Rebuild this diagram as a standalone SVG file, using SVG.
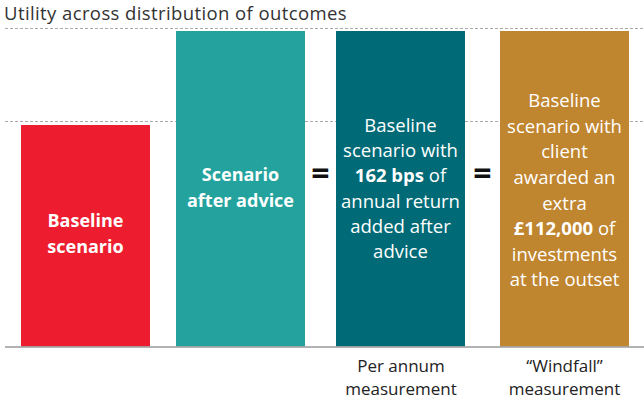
<svg xmlns="http://www.w3.org/2000/svg" width="644" height="400" viewBox="0 0 644 400">
  <style>
    text { font-family: "Open Sans", "Liberation Sans", sans-serif; }
    .title { font-size: 18.5px; letter-spacing: 0.4px; fill: #333333; }
    .lbl { font-size: 18.5px; fill: #ffffff; text-anchor: middle; }
    .lb { font-size: 18px; font-weight: 700; fill: #ffffff; text-anchor: middle; }
    .b { font-weight: 700; }
    .eq { font-size: 32px; font-weight: 700; fill: #111111; text-anchor: middle; }
    .foot { font-size: 17px; fill: #222222; text-anchor: middle; }
    .grid { stroke: #aaaaaa; stroke-width: 1; stroke-dasharray: 3 2; }
  </style>

  <text class="title" x="4" y="19.5">Utility across distribution of outcomes</text>

  <!-- reference levels -->
  <line class="grid" x1="5" y1="28.5" x2="644" y2="28.5"/>
  <line class="grid" x1="5" y1="121.5" x2="644" y2="121.5"/>

  <g id="baseline">
    <rect x="21" y="125" width="129" height="221.5" fill="#ED1C2E"/>
    <text class="lb" x="85.5" y="227">Baseline</text>
    <text class="lb" x="85.5" y="253">scenario</text>
  </g>

  <g id="after-advice">
    <rect x="176" y="31" width="129" height="315.5" fill="#24A39E"/>
    <text class="lb" x="240.5" y="181">Scenario</text>
    <text class="lb" x="240.5" y="207">after advice</text>
  </g>

  <g id="per-annum">
    <rect x="336" y="31" width="129" height="315.5" fill="#006B77"/>
    <text class="lbl" x="400.5" y="132">Baseline</text>
    <text class="lbl" x="400.5" y="157">scenario with</text>
    <text class="lbl" x="400.5" y="182"><tspan class="b">162 bps</tspan> of</text>
    <text class="lbl" x="400.5" y="208">annual return</text>
    <text class="lbl" x="400.5" y="233">added after</text>
    <text class="lbl" x="400.5" y="258">advice</text>
  </g>

  <g id="windfall">
    <rect x="500" y="31" width="129" height="315.5" fill="#C0852F"/>
    <text class="lbl" x="564.5" y="107">Baseline</text>
    <text class="lbl" x="564.5" y="133">scenario with</text>
    <text class="lbl" x="564.5" y="158">client</text>
    <text class="lbl" x="564.5" y="184">awarded an</text>
    <text class="lbl" x="564.5" y="210">extra</text>
    <text class="lbl" x="564.5" y="235"><tspan class="b">£112,000</tspan> of</text>
    <text class="lbl" x="564.5" y="261">investments</text>
    <text class="lbl" x="564.5" y="286">at the outset</text>
  </g>

  <g id="connectors">
    <text class="eq" x="320.5" y="185">=</text>
    <text class="eq" x="482.5" y="185">=</text>
  </g>

  <!-- axis -->
  <line x1="5" y1="347" x2="644" y2="347" stroke="#999999" stroke-width="1.5"/>

  <g id="footnotes">
    <text class="foot" x="401" y="372">Per annum</text>
    <text class="foot" x="401" y="395">measurement</text>
    <text class="foot" x="564.5" y="372">“Windfall”</text>
    <text class="foot" x="564.5" y="395">measurement</text>
  </g>
</svg>
